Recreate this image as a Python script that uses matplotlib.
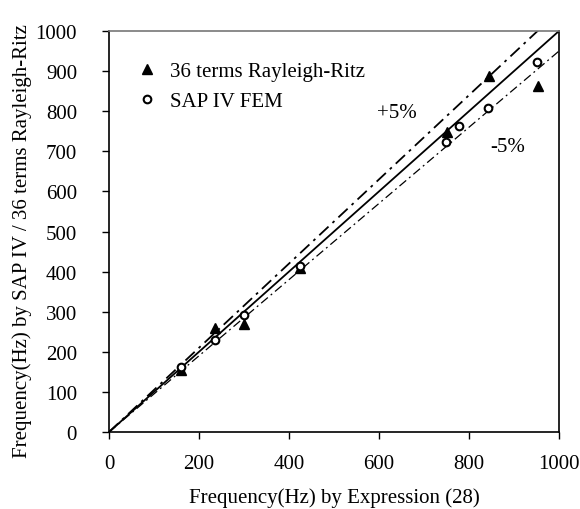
import matplotlib
matplotlib.use("Agg")
import matplotlib.pyplot as plt
import numpy as np

plt.rcParams['font.family'] = ['Liberation Serif', 'DejaVu Serif']

# Data
rr_x = [161, 236, 301, 424, 750, 845, 953]
rr_y = [155, 259, 270, 409, 747, 888, 863]
sap_x = [161, 236, 301, 424, 749, 778, 842, 950]
sap_y = [163, 230, 292, 415, 722, 762, 807, 923]
ref_x = [0, 1000]
xticks = [0, 200, 400, 600, 800, 1000]
yticks = [0, 100, 200, 300, 400, 500, 600, 700, 800, 900, 1000]

fig = plt.figure(figsize=(5.8, 5.1), dpi=100)
ax = fig.add_axes([109/580, 77/510, 450/580, 401/510])

rx = np.array(ref_x, dtype=float)
ax.plot(rx, rx, color='black', lw=1.3, zorder=2)
ax.plot(rx, rx * 1.05, color='black', lw=1.3, ls=(0, (7, 3, 1.5, 3)), zorder=2)
ax.plot(rx, rx * 0.95, color='black', lw=0.9, ls=(0, (7, 3, 1.5, 3)), zorder=2)

ax.plot(rr_x, rr_y, ls='none', marker='^', ms=7.5, color='black',
        label='36 terms Rayleigh-Ritz', zorder=3)
ax.plot(sap_x, sap_y, ls='none', marker='o', ms=5.5, mfc='white', mec='black',
        mew=1.5, label='SAP IV FEM', zorder=4)

ax.set_xlim(0, 1000)
ax.set_ylim(0, 1000)
ax.set_xticks(xticks)
ax.set_yticks(yticks)
ax.tick_params(direction='out', length=5, width=1, labelsize=15,
               top=False, right=False, colors='black')
ax.tick_params(axis='x', pad=11)
ax.tick_params(axis='y', pad=18)
for s in ['left', 'bottom', 'right']:
    ax.spines[s].set_linewidth(1.2)
ax.spines['top'].set_color('#777777')
ax.spines['top'].set_linewidth(1.2)

ax.set_xlabel('Frequency(Hz) by Expression (28)', fontsize=15, labelpad=10)
ax.set_ylabel('Frequency(Hz) by SAP IV / 36 terms Rayleigh-Ritz', fontsize=15)
ax.yaxis.set_label_coords(-0.193, 0.478)
ax.yaxis.label.set_verticalalignment('center')

ax.text(596, 797, '+5%', fontsize=15, va='center')
ax.text(847, 712, '-5%', fontsize=15, va='center')

leg = ax.legend(loc='upper left', bbox_to_anchor=(0.029, 0.955), frameon=False,
                fontsize=15, handletextpad=0.5, labelspacing=0.5,
                handlelength=1.2, borderaxespad=0.2)

fig.savefig('out.png', dpi=100)
